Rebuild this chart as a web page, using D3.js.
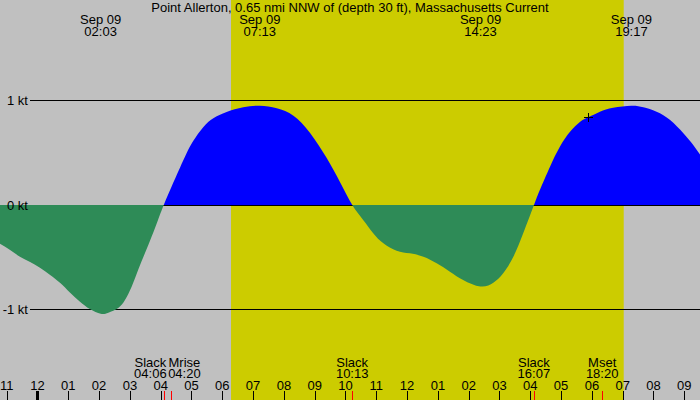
<!DOCTYPE html>
<html>
<head>
<meta charset="utf-8">
<script src="https://d3js.org/d3.v7.min.js"></script>
<style>
body { margin: 0; background: #c0c0c0; }
text { font-family: "Liberation Sans", Arial, sans-serif; font-size: 13px; fill: #000; }
</style>
</head>
<body>
<svg width="700" height="400"></svg>
<script>
var title = "Point Allerton, 0.65 nmi NNW of (depth 30 ft), Massachusetts Current";

// hours after midnight Sep 09, current in knots (+ flood, - ebb)
var hours = [-1.22, -0.89, -0.57, -0.24, 0.08, 0.41, 0.73, 1.06, 1.38, 1.70, 2.05, 2.30, 2.62, 2.84, 3.06, 3.27, 3.49, 3.71, 3.91, 4.10,
             4.41, 4.63, 4.84, 5.06, 5.38, 5.71, 6.14, 6.68, 7.22, 7.77, 8.31, 8.85, 9.39, 9.82, 10.22,
             10.58, 10.90, 11.23, 11.66, 12.09, 12.53, 12.96, 13.39, 13.82, 14.38, 14.80, 15.12, 15.45, 15.77, 16.12,
             16.31, 16.64, 16.96, 17.29, 17.62, 17.88, 18.26, 18.69, 19.28, 19.67, 20.10, 20.54, 20.97, 21.29, 21.52];
var knots = [-0.37, -0.43, -0.495, -0.545, -0.60, -0.67, -0.745, -0.84, -0.925, -0.995, -1.04, -1.03, -0.985, -0.91, -0.78, -0.62, -0.46, -0.30, -0.145, 0,
             0.215, 0.36, 0.495, 0.615, 0.745, 0.83, 0.89, 0.935, 0.95, 0.925, 0.855, 0.69, 0.45, 0.22, 0,
             -0.145, -0.27, -0.367, -0.437, -0.462, -0.495, -0.558, -0.638, -0.718, -0.78, -0.744, -0.654, -0.495, -0.271, 0,
             0.144, 0.367, 0.558, 0.70, 0.797, 0.839, 0.893, 0.931, 0.95, 0.935, 0.893, 0.813, 0.686, 0.574, 0.478];

var maxDate = "Sep 09";
var maxTimes = ["02:03", "07:13", "14:23", "19:17"];
var eventNames = ["Slack", "Mrise", "Slack", "Slack", "Mset"];
var eventTimes = ["04:06", "04:20", "10:13", "16:07", "18:20"];
var sunTimes = ["06:17", "19:02"];
var nowTime = "17:53";
var ktTicks = [1, 0, -1];
var hourTicks = d3.range(-1, 22);
var startTime = -1.2175, endTime = 21.51;

function hrs(s) { var p = s.split(":"); return +p[0] + p[1] / 60; }

var W = 700, H = 400;
var svg = d3.select("svg");
var x = d3.scaleLinear().domain([startTime, endTime]).range([0, W]);
var y = d3.scaleLinear().domain([-1, 1]).range([309.5, 100.5]);
var data = hours.map(function(h, i) { return {h: h, v: knots[i]}; });

// background + daylight
svg.append("rect").attr("width", W).attr("height", H).attr("fill", "#c0c0c0");
svg.append("rect")
  .attr("x", x(hrs(sunTimes[0]))).attr("width", x(hrs(sunTimes[1])) - x(hrs(sunTimes[0])))
  .attr("y", 0).attr("height", H).attr("fill", "#cccc00");

var defs = svg.append("defs");
defs.append("clipPath").attr("id", "above").append("rect")
  .attr("x", 0).attr("y", 0).attr("width", W).attr("height", y(0));
defs.append("clipPath").attr("id", "below").append("rect")
  .attr("x", 0).attr("y", y(0)).attr("width", W).attr("height", H - y(0));

function ktLine(v) {
  var yy = Math.floor(y(v)) + 0.5;
  svg.append("line").attr("x1", 30).attr("x2", W).attr("y1", yy).attr("y2", yy)
    .attr("stroke", "#000").attr("stroke-width", 1);
}
ktTicks.forEach(function(v) { if (v != 0) ktLine(v); });

var area = d3.area().x(function(d) { return x(d.h); })
  .y0(y(0)).y1(function(d) { return y(d.v); })
  .curve(d3.curveNatural);

svg.append("path").datum(data).attr("d", area).attr("fill", "#0000ff").attr("clip-path", "url(#above)");
ktLine(0);
svg.append("path").datum(data).attr("d", area).attr("fill", "#2e8b57").attr("clip-path", "url(#below)");

// kt labels
svg.selectAll(".kt").data(ktTicks).enter().append("text")
  .attr("x", 28).attr("y", function(d) { return Math.floor(y(d)) + 5; })
  .attr("text-anchor", "end")
  .text(function(d) { return d + " kt"; });

// now marker
var nh = hrs(nowTime);
var bi = d3.bisector(function(d) { return d.h; }).left(data, nh);
var pa = data[bi - 1], pb = data[bi];
var nv = pa.v + (pb.v - pa.v) * (nh - pa.h) / (pb.h - pa.h);
var cx = Math.round(x(nh)) + 0.5, cy = Math.round(y(nv)) + 0.5;
svg.append("path").attr("d", "M" + (cx - 4.5) + "," + cy + "H" + (cx + 4.5) + "M" + cx + "," + (cy - 4.5) + "V" + (cy + 4.5))
  .attr("stroke", "#000").attr("stroke-width", 1);

// title
svg.append("text").attr("x", W / 2).attr("y", 12).attr("text-anchor", "middle").text(title);

// max labels on top
var maxG = svg.selectAll(".max").data(maxTimes).enter().append("g")
  .attr("transform", function(d) { return "translate(" + x(hrs(d)) + ",0)"; });
maxG.append("text").attr("y", 24).attr("text-anchor", "middle").text(maxDate);
maxG.append("text").attr("y", 36).attr("text-anchor", "middle").text(function(d) { return d; });

// hour ticks
svg.selectAll(".ht").data(hourTicks).enter().append("line")
  .attr("x1", function(d) { return Math.round(x(d)) + 0.5; })
  .attr("x2", function(d) { return Math.round(x(d)) + 0.5; })
  .attr("y1", 391).attr("y2", H)
  .attr("stroke", "#000").attr("stroke-width", function(d) { return d == 0 ? 3 : 1; });
svg.selectAll(".hl").data(hourTicks).enter().append("text")
  .attr("x", function(d) { return x(d); }).attr("y", 390)
  .attr("text-anchor", "middle")
  .text(function(d) { var h = ((d % 12) + 12) % 12; if (h == 0) h = 12; return (h < 10 ? "0" : "") + h; });

// event ticks
svg.selectAll(".et").data(eventTimes).enter().append("line")
  .attr("x1", function(d) { return Math.round(x(hrs(d))) + 0.5; })
  .attr("x2", function(d) { return Math.round(x(hrs(d))) + 0.5; })
  .attr("y1", 391).attr("y2", H)
  .attr("stroke", "#ff0000").attr("stroke-width", 1);

// event labels, pushed apart where they collide
var ev = eventNames.map(function(n, k) { return {name: n, time: eventTimes[k], x: x(hrs(eventTimes[k]))}; });
var eg = svg.selectAll(".ev").data(ev).enter().append("g");
eg.append("text").attr("y", 366.5).attr("text-anchor", "middle").text(function(d) { return d.name; });
eg.append("text").attr("y", 377.5).attr("text-anchor", "middle").text(function(d) { return d.time; });
eg.each(function(d) {
  var w = 0;
  d3.select(this).selectAll("text").each(function() { w = Math.max(w, this.getComputedTextLength()); });
  d.w = w;
});
for (var k = 1; k < ev.length; k++) {
  var need = (ev[k].w + ev[k - 1].w) / 2 + 1.5;
  var dist = ev[k].x - ev[k - 1].x;
  if (dist < need) { ev[k - 1].x -= (need - dist) / 2; ev[k].x += (need - dist) / 2; }
}
eg.attr("transform", function(d) { return "translate(" + d.x + ",0)"; });
</script>
</body>
</html>
